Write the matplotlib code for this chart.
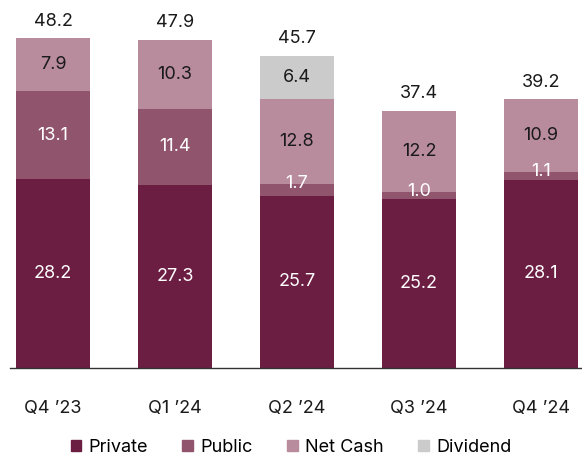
import matplotlib
matplotlib.use("Agg")
import matplotlib.pyplot as plt
import numpy as np
from matplotlib.patches import Patch

plt.rcParams['font.family'] = ['Inter', 'DejaVu Sans']

categories = ["Q4 \u201923", "Q1 \u201924", "Q2 \u201924", "Q3 \u201924", "Q4 \u201924"]
private = [28.2, 27.3, 25.7, 25.2, 28.1]
public = [13.1, 11.4, 1.7, 1.0, 1.1]
net_cash = [7.9, 10.3, 12.8, 12.2, 10.9]
dividend = [0.0, 0.0, 6.4, 0.0, 0.0]
totals = [48.2, 47.9, 45.7, 37.4, 39.2]

series = [("Private", private, "#6B1D42", "white"),
          ("Public", public, "#91546D", "white"),
          ("Net Cash", net_cash, "#B88B9D", "#1a1a1a"),
          ("Dividend", dividend, "#CBCBCB", "#1a1a1a")]

fs = 13
fig = plt.figure(figsize=(5.82, 4.59), dpi=100)
ax = fig.add_axes([10/582, 91/459, 572/582, 368/459])
x = np.arange(len(categories))
w = 0.607
bottom = np.zeros(len(categories))
for name, vals, col, tcol in series:
    vals = np.array(vals)
    ax.bar(x, vals, w, bottom=bottom, color=col, label=name)
    for i, v in enumerate(vals):
        if v <= 0:
            continue
        yc = bottom[i] + v / 2
        if v < 2:
            yc = bottom[i] + v + 0.1
        ax.text(x[i], yc, f"{v:.1f}", ha="center", va="center",
                color=tcol, fontsize=fs)
    bottom += vals

for i, t in enumerate(totals):
    ax.annotate(f"{t:.1f}", (x[i], bottom[i]), xytext=(0, 6),
                textcoords="offset points", ha="center", va="bottom",
                fontsize=fs, color="#1a1a1a")

ax.set_xlim(-0.352, 4.336)
ax.set_ylim(0, 54.9)
ax.set_xticks(x)
ax.set_xticklabels(categories, fontsize=fs, color="#1a1a1a")
ax.tick_params(axis="x", length=0, pad=23)
ax.set_yticks([])
for s in ["top", "right", "left"]:
    ax.spines[s].set_visible(False)
ax.spines["bottom"].set_color("#333333")
ax.spines["bottom"].set_linewidth(1.0)

handles = [Patch(color=c, label=n) for n, _, c, _ in series]
fig.legend(handles=handles, loc="lower center", bbox_to_anchor=(0.5, -0.028),
           ncol=4, frameon=False, fontsize=fs, handlelength=0.6,
           handleheight=0.6, handletextpad=0.4, columnspacing=1.9)

fig.savefig("out.png", dpi=100)
